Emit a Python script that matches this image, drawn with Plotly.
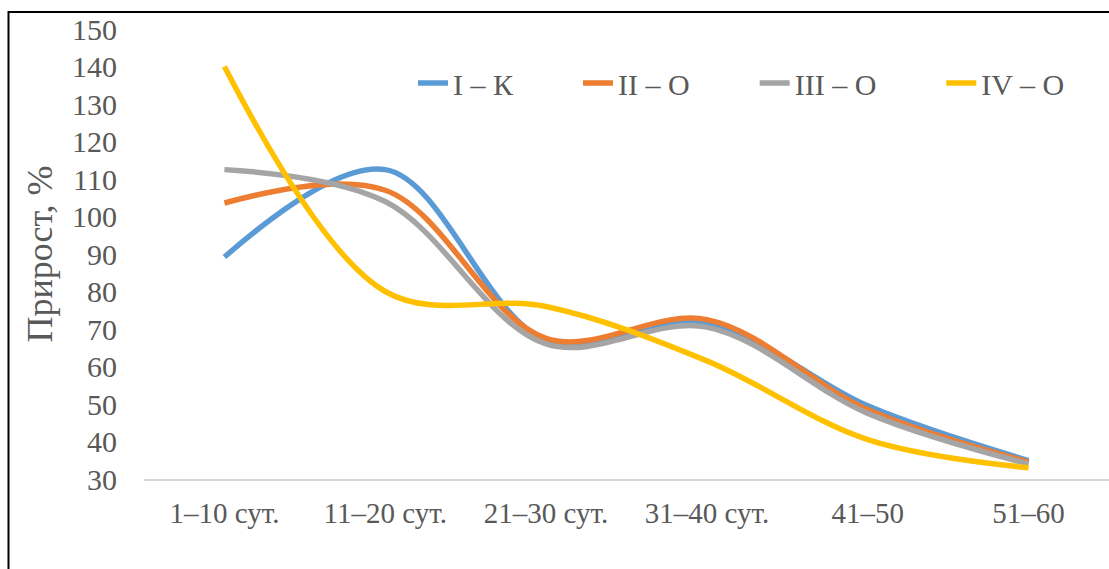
import plotly.graph_objects as go

categories = ["1–10 сут.", "11–20 сут.", "21–30 сут.", "31–40 сут.", "41–50", "51–60"]
series_names = ["I – К", "II – О", "III – О", "IV – О"]
s1 = [89.2, 112.5, 67.0, 71.5, 49.5, 34.9]
s2 = [103.6, 107.0, 67.5, 72.5, 48.5, 34.5]
s3 = [112.5, 104.0, 66.0, 70.5, 47.5, 34.0]
s4 = [140.0, 80.0, 76.0, 61.5, 40.5, 33.0]
colors = ["#5B9BD5", "#ED7D31", "#A5A5A5", "#FFC000"]
y_ticks = list(range(30, 151, 10))

W, H = 1109, 569
L, R, T, B = 144, 0, 29, 90

fig = go.Figure()
pad = "\u00a0" * 8
all_series = [s1, s2, s3, s4]
for i, (name, vals, col) in enumerate(zip(series_names, all_series, colors)):
    label = name + (pad if i < len(series_names) - 1 else "")
    fig.add_trace(go.Scatter(
        x=categories, y=vals, mode="lines", name=label,
        line=dict(color=col, width=5.5, shape="spline", smoothing=1.0),
    ))

pw = W - L - R
ph = H - T - B
fig.add_shape(type="rect", xref="paper", yref="paper",
              x0=(8.5 - L) / pw, x1=1.2, y0=-0.5, y1=(H - B - 12) / ph,
              line=dict(color="black", width=2), fillcolor="rgba(0,0,0,0)")

font_family = "Liberation Serif, Times New Roman, serif"
fig.update_layout(
    width=W, height=H,
    margin=dict(l=L, r=R, t=T, b=B, autoexpand=False),
    paper_bgcolor="white", plot_bgcolor="white",
    font=dict(family=font_family, color="#595959"),
    showlegend=True,
    legend=dict(orientation="h", x=(413 - L) / pw, xanchor="left",
                y=(H - B - 83) / ph, yanchor="middle",
                font=dict(size=30, family=font_family, color="#595959"),
                bgcolor="rgba(0,0,0,0)", itemwidth=30),
    xaxis=dict(type="category", range=[-0.5, 5.5], showgrid=False,
               showline=True, linecolor="#D9D9D9", linewidth=1.5,
               ticks="", tickfont=dict(size=29, family=font_family, color="#595959"),
               ticklabelstandoff=7, zeroline=False),
    yaxis=dict(range=[30, 150], tickvals=y_ticks, showgrid=False, showline=False,
               zeroline=False, ticks="",
               tickfont=dict(size=30, family=font_family, color="#595959"),
               ticklabelstandoff=26,
               title=dict(text="Прирост, %", font=dict(size=36, family=font_family, color="#595959"),
                          standoff=8)),
)

fig.write_html("out.html", config={"displayModeBar": False},
               post_script="document.body.style.margin='0';document.body.style.overflow='hidden';")
